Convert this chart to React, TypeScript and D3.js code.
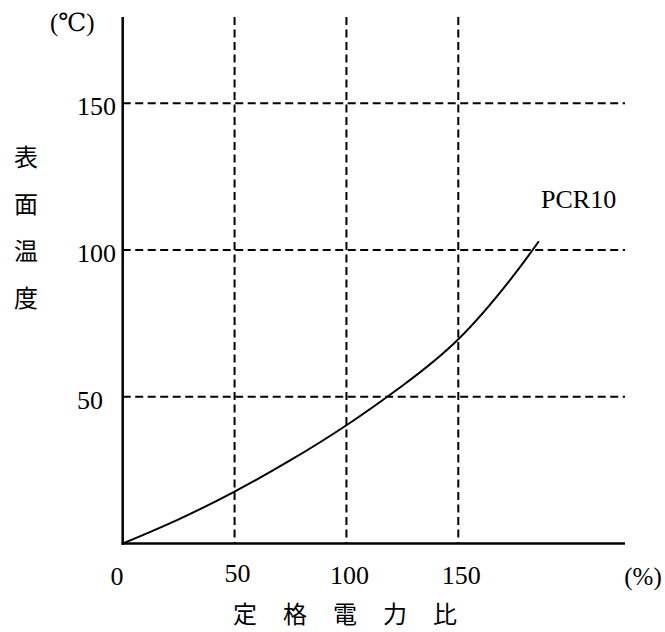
import React from "react";
import * as d3 from "d3";

const powerRatio = [0, 25, 50, 75, 100, 125, 150, 175, 186];
const surfaceTemp = [0, 8.0, 17.5, 28.2, 40, 53.6, 68.2, 91.2, 103];
const xTicks = [50, 100, 150];
const yTicks = [50, 100, 150];
const yLabelChars = ["表", "面", "温", "度"];
const xLabelChars = ["定", "格", "電", "力", "比"];
const seriesName = "PCR10";

const W = 665;
const H = 632;
const left = 122.7;
const bottom = 543.5;
const right = 625;
const top = 17;

const x = d3.scaleLinear().domain([0, 150]).range([left, 458.3]);
const y = d3.scaleLinear().domain([0, 150]).range([bottom, 103.3]);

const serif = "'Liberation Serif', 'DejaVu Serif', serif";
const cjk = "'Noto Sans CJK JP', sans-serif";

export default function App() {
  const pts: [number, number][] = powerRatio.map((p, i) => [p, surfaceTemp[i]]);
  const line = d3
    .line<[number, number]>()
    .x((d) => x(d[0]))
    .y((d) => y(d[1]))
    .curve(d3.curveBasis);
  const dash = "8,4.5";
  return (
    <svg
      width={W}
      height={H}
      style={{ position: "absolute", left: 0, top: 0, background: "#fff" }}
    >
      {xTicks.map((t) => (
        <line
          key={"gx" + t}
          x1={x(t)}
          x2={x(t)}
          y1={top}
          y2={bottom}
          stroke="#000"
          strokeWidth={2}
          strokeDasharray={dash}
        />
      ))}
      {yTicks.map((t) => (
        <line
          key={"gy" + t}
          x1={left}
          x2={right}
          y1={y(t)}
          y2={y(t)}
          stroke="#000"
          strokeWidth={2}
          strokeDasharray={dash}
        />
      ))}
      <line x1={left} x2={left} y1={top} y2={bottom + 1.2} stroke="#000" strokeWidth={2.5} />
      <line x1={left - 1.2} x2={right} y1={bottom} y2={bottom} stroke="#000" strokeWidth={2.5} />
      <path d={line(pts) || ""} fill="none" stroke="#000" strokeWidth={2} />
      {yTicks.map((t) => (
        <text key={"ty" + t} x={77} y={y(t) + 12} fontFamily={serif} fontSize={26} fill="#000">
          {t}
        </text>
      ))}
      <text x={117} y={585} textAnchor="middle" fontFamily={serif} fontSize={26}>
        0
      </text>
      {xTicks.map((t) => (
        <text
          key={"tx" + t}
          x={x(t) + 3}
          y={t === 50 ? 582 : 584}
          textAnchor="middle"
          fontFamily={serif}
          fontSize={26}
        >
          {t}
        </text>
      ))}
      <text x={643} y={585} textAnchor="middle" fontFamily={serif} fontSize={25}>
        (%)
      </text>
      <text x={50} y={31} fontFamily={serif} fontSize={25}>
        (℃)
      </text>
      {yLabelChars.map((c, i) => (
        <text
          key={c}
          x={26}
          y={155 + i * 47}
          textAnchor="middle"
          dominantBaseline="central"
          fontFamily={cjk}
          fontSize={24}
        >
          {c}
        </text>
      ))}
      {xLabelChars.map((c, i) => (
        <text
          key={c}
          x={245 + i * 50}
          y={612}
          textAnchor="middle"
          dominantBaseline="central"
          fontFamily={cjk}
          fontSize={24}
        >
          {c}
        </text>
      ))}
      <text x={541} y={208} fontFamily={serif} fontSize={26}>
        {seriesName}
      </text>
    </svg>
  );
}
